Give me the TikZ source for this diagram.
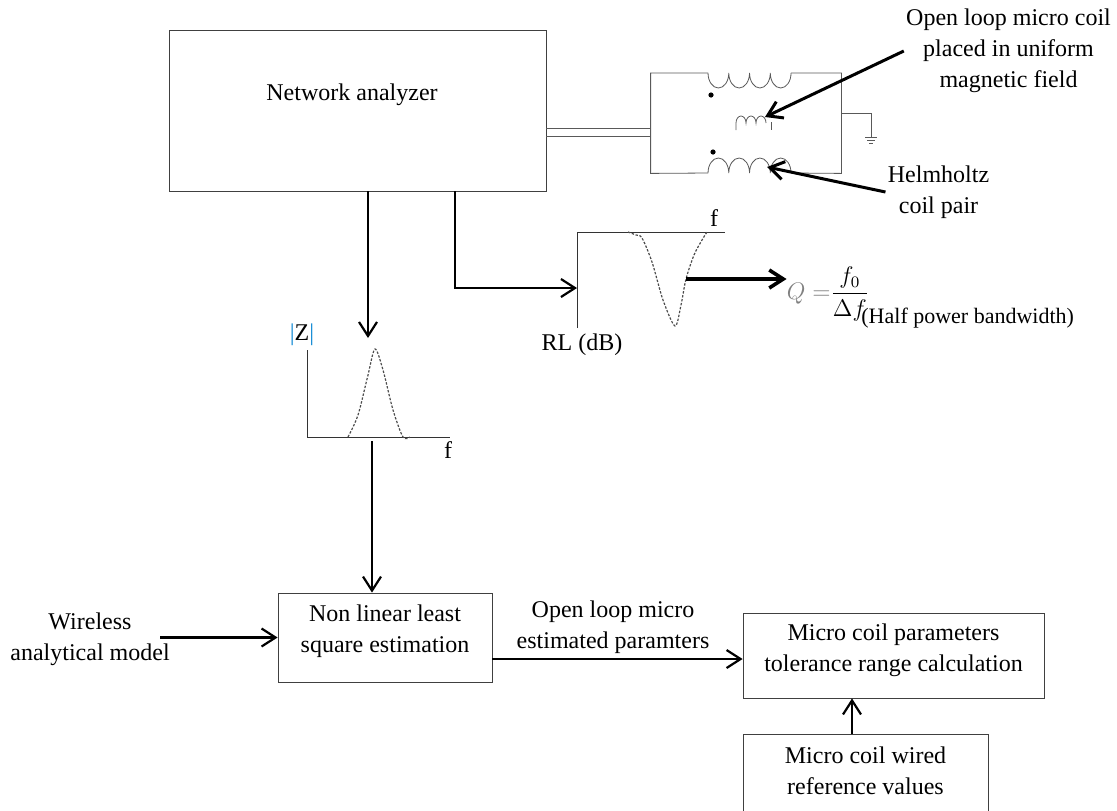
\documentclass[tikz,border=0pt]{standalone}
\usepackage{fontspec}
\setmainfont{Liberation Serif}
\usetikzlibrary{arrows.meta,calc}
\tikzstyle{block}=[draw=black!75, thin, inner sep=0pt]
\tikzstyle{lbl}=[align=center, inner sep=1pt, font=\fontsize{12}{15.5}\selectfont]
\tikzstyle{flow}=[-{Straight Barb[length=7pt,width=9pt]}, line width=1.1pt]
\tikzstyle{pointer}=[-{Straight Barb[length=7pt,width=9pt]}, line width=1.5pt]
\tikzstyle{curve}=[dash pattern=on 1.2pt off 0.8pt, gray!60!black, line width=0.6pt]
\tikzstyle{wire}=[gray!70!black, thin]

\begin{document}
\begin{tikzpicture}[x=0.5pt,y=-0.5pt]
    \useasboundingbox (0,0) rectangle (1117,810);
    \clip (0,0) rectangle (1117,810);
    % analyzer and coil fixture
    \node[block, minimum width=188.5pt, minimum height=80.5pt] (na) at (357.5,110.5) {};
    \node[lbl] (natext) at (352,95) {Network analyzer};
    \node[minimum width=95pt, minimum height=50pt, inner sep=0pt] (coil) at (746,123) {};
    \draw[wire] (708,73) -| (coil.south west) -- (708,173);
    \draw[wire] (791,73) -| (coil.south east) -- (791,173);
    \draw[wire] (708,73) \foreach \k in {1,...,4} {arc[start angle=180, end angle=360, x radius=5.19pt, y radius=7.5pt]};
    \draw[wire] (708,173) \foreach \k in {1,...,4} {arc[start angle=180, end angle=0, x radius=5.19pt, y radius=7.5pt]};
    \draw[wire] (736,130) -- (736,123) \foreach \k in {1,2,3} {arc[start angle=180, end angle=0, x radius=2.5pt, y radius=3.5pt]};
    \draw[wire] (771,122) -- (771,130);
    \fill (711,95) circle[radius=1.3pt];
    \fill (713,152) circle[radius=1.3pt];
    \coordinate (gnd) at (871,137);
    \draw[wire] (841,113) -| (gnd);
    \draw[wire] (865,137) -- (877,137) (867,140) -- (875,140) (869,143) -- (873,143);
    \coordinate (cab1) at (600,128);
    \coordinate (cab2) at (600,136);
    \draw[wire] (na.east |- cab1) -- (coil.west |- cab1);
    \draw[wire] (na.east |- cab2) -- (coil.west |- cab2);
    \node[lbl] (coiltxt) at (1008.5,51) {Open loop micro coil\\placed in uniform\\magnetic field};
    \node[lbl] (helmtxt) at (938.5,192) {Helmholtz\\coil pair};
    \coordinate (microtip) at (765,117);
    \coordinate (helmtip) at (767,167);
    \draw[pointer] (coiltxt.west) -- (microtip);
    \draw[pointer] (helmtxt.west) -- (helmtip);
    % return loss plot
    \coordinate (rlo) at (577,232);
    \draw[wire, black!80] (577,328) -- (rlo) -- (725,232);
    \draw[curve] plot[smooth] coordinates {(628,232) (636,235) (642,238) (652,262) (663,300) (675,326) (681,305) (686,279) (694,255) (702,240) (707,232)};
    \node[lbl] (rlf) at (714,218) {f};
    \node[lbl] (rldb) at (582,345) {RL (dB)};
    \coordinate (lcorner) at (455,288);
    \draw[flow] (na.south -| lcorner) |- (rlo |- lcorner);
    \coordinate (dip) at (686,279);
    \node[lbl, inner sep=0pt] (qform) at (828,294) {$\displaystyle\textcolor{gray}{Q=}\frac{f_0}{\Delta f}$};
    \node[lbl, font=\fontsize{11}{13}\selectfont, anchor=west] (halfbw) at (859,318) {(Half power bandwidth)};
    \draw[flow, line width=1.8pt] (dip) -- (qform.west |- dip);
    % impedance plot
    \coordinate (zo) at (307,437);
    \draw[wire, black!80] (307,350) -- (zo) -- (450,437);
    \draw[curve] plot[smooth] coordinates {(348,437) (358,415) (368,375) (375,349) (383,370) (393,410) (403,437) (410,437)};
    \node[lbl] (zlbl) at (302,335) {\textcolor{cyan!70!blue}{|}Z\textcolor{cyan!70!blue}{|}};
    \node[lbl] (zf) at (448,450) {f};
    \coordinate (zpeak) at (368,338);
    \draw[flow] (na.south -| zpeak) -- (zpeak);
    % estimation chain
    \node[block, minimum width=107pt, minimum height=44.5pt] (nls) at (385,637.5) {};
    \node[lbl] (nlstxt) at (385,631) {Non linear least\\square estimation};
    \node[block, minimum width=150.5pt, minimum height=42.5pt] (tol) at (893.5,655.5) {};
    \node[lbl] (toltxt) at (893.5,650.5) {Micro coil parameters\\tolerance range calculation};
    \node[block, minimum width=122.5pt, minimum height=48pt] (refbox) at (865.5,782) {};
    \node[lbl] (reftxt) at (865.5,771) {Micro coil wired\\reference values};
    \node[lbl] (wlstxt) at (90,639) {Wireless\\analytical model};
    \node[lbl] (esttxt) at (613,627) {Open loop micro\\estimated paramters};
    \coordinate (zout) at (372,441);
    \draw[flow] (zout) -- (nls.north -| zout);
    \coordinate (wlsout) at (160,637.5);
    \draw[flow] (wlsout) -- (nls.west);
    \coordinate (estout) at (492,659);
    \draw[flow] (estout) -- (tol.west |- estout);
    \coordinate (refup) at (852,734);
    \draw[flow] (refup) -- (tol.south -| refup);
\end{tikzpicture}
\end{document}
